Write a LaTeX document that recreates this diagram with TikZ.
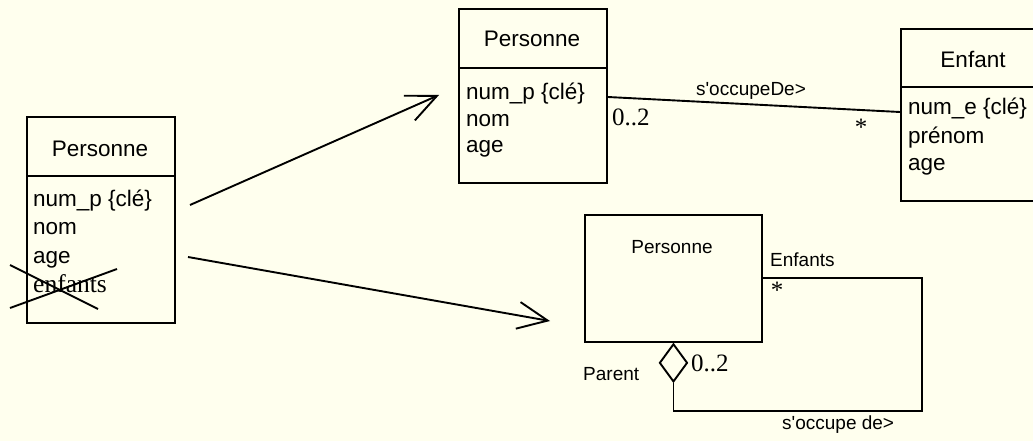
\documentclass[tikz,border=0pt]{standalone}
\usepackage{fontspec}
\setmainfont{Liberation Serif}
\newfontfamily\uisans{Liberation Sans}
\usetikzlibrary{arrows.meta,shapes.geometric,calc}
\definecolor{paper}{RGB}{255,255,238}
\begin{document}
\begin{tikzpicture}[x=1pt,y=-1pt,
  classbox/.style={draw,line width=1.9pt,inner sep=0pt,anchor=north west},
  attr/.style={font=\uisans\fontsize{22.5}{27}\selectfont,inner sep=0pt,anchor=base west},
  classname/.style={attr,anchor=base},
  lbl/.style={font=\uisans\fontsize{19}{23}\selectfont,inner sep=0pt,anchor=base west},
  mult/.style={font=\fontsize{25}{30}\selectfont,inner sep=0pt,anchor=base west},
  link/.style={line width=1.9pt},
  flow/.style={line width=1.9pt,-{Straight Barb[length=30pt,width=27pt]}}]
\useasboundingbox (0,0) rectangle (1033,441);
\fill[paper] (0,0) rectangle (1033,441);
\clip (0,0) rectangle (1033,441);

% ---- class Personne with the dropped attribute
\node[classbox,minimum width=148pt,minimum height=206pt] (pL) at (26,116) {};
\draw[link] ($(pL.north west)+(0,60)$) -- ($(pL.north east)+(0,60)$);
\node[classname] (pLn) at (100,157) {Personne};
\node[attr] (pL1) at (33,206) {num\_p \{clé\}};
\node[attr] (pL2) at (33,234.5) {nom};
\node[attr] (pL3) at (33,263) {age};
\node[mult,font=\fontsize{25.5}{30}\selectfont] (pL4) at (33,292) {enfants};
\coordinate (x1a) at (10,308); \coordinate (x1b) at (117,269);
\coordinate (x2a) at (10,265); \coordinate (x2b) at (98,309);
\draw[link] (x1a) -- (x1b);
\draw[link] (x2a) -- (x2b);

% ---- transformation arrows
\coordinate (a1s) at (190,205); \coordinate (a1e) at (439,95);
\coordinate (a2s) at (188,257); \coordinate (a2e) at (550,321);
\draw[flow] (a1s) -- (a1e);
\draw[flow] (a2s) -- (a2e);

% ---- first solution: Personne -- Enfant
\node[classbox,minimum width=148pt,minimum height=174pt] (pT) at (458,8) {};
\draw[link] ($(pT.north west)+(0,60)$) -- ($(pT.north east)+(0,60)$);
\node[classname] (pTn) at (532,47) {Personne};
\node[attr] (pT1) at (466,100) {num\_p \{clé\}};
\node[attr] (pT2) at (466,126.5) {nom};
\node[attr] (pT3) at (466,153) {age};

\node[classbox,minimum width=146pt,minimum height=172pt] (en) at (900,28) {};
\draw[link] ($(en.north west)+(0,59)$) -- ($(en.north east)+(0,59)$);
\node[classname] (enn) at (973,68) {Enfant};
\node[attr] (en1) at (908,115) {num\_e \{clé\}};
\node[attr] (en2) at (908,143) {prénom};
\node[attr] (en3) at (908,171) {age};

\draw[link] ($(pT.north east)+(0,89)$) -- ($(en.north west)+(0,84)$);
\node[lbl,anchor=base] (asc1) at (751,96) {s\textquotesingle occupeDe>};
\node[mult] (m1) at (612,125) {0..2};
\node[mult,anchor=center] (m2) at (861,127) {*};

% ---- second solution: reflexive aggregation
\node[classbox,minimum width=177pt,minimum height=127pt] (pB) at (584,214) {};
\node[lbl,anchor=base] (pBn) at (672,253) {Personne};
\node[diamond,draw,link,fill=paper,inner sep=0pt,minimum width=28pt,minimum height=38pt,anchor=north] (dia) at (pB.south) {};
\coordinate (c1) at (922,278);
\coordinate (c2) at (922,411);
\draw[link] ($(pB.north east)+(0,64)$) -- (c1) -- (c2) -| (dia.south);
\node[lbl] (r1) at (770,266) {Enfants};
\node[mult,anchor=center] (r2) at (777,290) {*};
\node[mult] (r3) at (691,371) {0..2};
\node[lbl] (r4) at (583,380) {Parent};
\node[lbl] (r5) at (782,429) {s\textquotesingle occupe de>};
\end{tikzpicture}
\end{document}
